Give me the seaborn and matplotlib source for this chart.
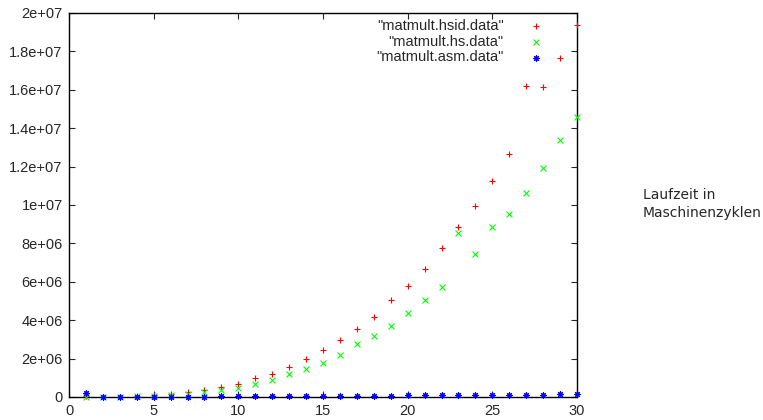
import numpy as np
import pandas as pd
import matplotlib
matplotlib.use("Agg")
import matplotlib.pyplot as plt
import seaborn as sns

# dane (w milionach cykli)
n = list(range(1, 31))
hsid = [0.05, 0.02, 0.02, 0.03, 0.10, 0.14, 0.26, 0.36, 0.50, 0.70,
        0.97, 1.22, 1.58, 1.99, 2.43, 2.95, 3.56, 4.17, 5.04, 5.77,
        6.65, 7.78, 8.87, 9.96, 11.25, 12.64, 16.20, 16.13, 17.67, 19.40]
hs = [0.01, 0.01, 0.02, 0.03, 0.05, 0.08, 0.14, 0.26, 0.36, 0.49,
      0.68, 0.91, 1.19, 1.45, 1.79, 2.19, 2.74, 3.16, 3.70, 4.35,
      5.04, 5.75, 8.56, 7.47, 8.87, 9.53, 10.60, 11.94, 13.40, 14.60]
asm = [0.22, 0.01, 0.01, 0.01, 0.01, 0.02, 0.02, 0.02, 0.03, 0.03,
       0.03, 0.04, 0.04, 0.05, 0.05, 0.05, 0.06, 0.06, 0.07, 0.08,
       0.08, 0.09, 0.10, 0.10, 0.11, 0.12, 0.12, 0.13, 0.14, 0.15]
etykiety = ['"matmult.hsid.data"', '"matmult.hs.data"', '"matmult.asm.data"']

df = pd.DataFrame({
    "n": n,
    "hsid": np.array(hsid) * 1e6,
    "hs": np.array(hs) * 1e6,
    "asm": np.array(asm) * 1e6,
})

sns.set_style("ticks")
plt.rcParams['font.family'] = ['Liberation Sans', 'DejaVu Sans']

fig = plt.figure(figsize=(7.63, 4.20), dpi=100)
ax = fig.add_axes([69 / 763, 23 / 420, 508 / 763, 384 / 420])

serie = [("hsid", "+", "#ff0000"), ("hs", "x", "#00ff00"), ("asm", (8, 2, 0), "#0000ff")]
for (kol, marker, kolor), etykieta in zip(serie, etykiety):
    sns.scatterplot(data=df, x="n", y=kol, marker=marker, color=kolor, s=18,
                    linewidth=0.8, label=etykieta, ax=ax, clip_on=False, zorder=3)

ax.set_xlim(0, 30)
ax.set_ylim(0, 2e7)
ax.set_xticks(range(0, 31, 5))
ax.set_yticks(np.arange(0, 2.01e7, 2e6))
ax.yaxis.set_major_formatter(plt.FuncFormatter(lambda v, p: "%g" % v))
ax.set_xlabel("")
ax.set_ylabel("")
for s in ax.spines.values():
    s.set_linewidth(1.0)
    s.set_color("black")
ax.tick_params(direction="in", length=4, width=0.8, labelsize=10.5,
               top=True, right=True)
ax.tick_params(axis="x", pad=5)
ax.tick_params(axis="y", pad=4.5)

ax.legend(loc="upper right", frameon=False, markerfirst=False, fontsize=10.5,
          handlelength=1.0, handletextpad=1.7, labelspacing=0.12,
          borderaxespad=0, bbox_to_anchor=(0.945, 1.0))

fig.text(643 / 763, 1 - 204 / 420, "Laufzeit in\nMaschinenzyklen", fontsize=10,
         family="DejaVu Sans", ha="left", va="center", linespacing=1.3)

fig.savefig("out.png", dpi=100)
